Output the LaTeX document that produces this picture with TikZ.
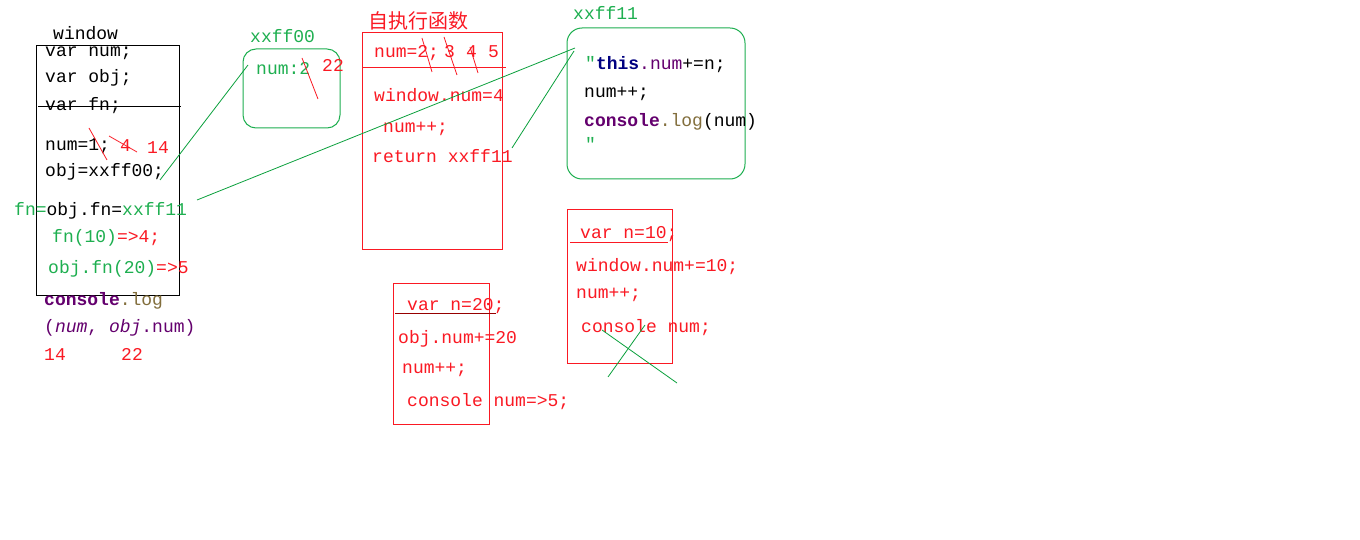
\documentclass[tikz,border=0pt]{standalone}
\usepackage{fontspec}
\setmainfont{Liberation Mono}
\newfontfamily\cjk{Noto Sans CJK SC}
\definecolor{cred}{RGB}{250,25,35}
\definecolor{dred}{RGB}{150,0,0}
\definecolor{cgreen}{RGB}{30,175,80}
\definecolor{lgreen}{RGB}{10,160,60}
\definecolor{cpurple}{RGB}{100,0,110}
\definecolor{colive}{RGB}{130,110,60}
\definecolor{cnavy}{RGB}{0,0,128}
\begin{document}
\begin{tikzpicture}[x=1pt,y=-1pt,
  t/.style={anchor=base west,inner sep=0pt,font=\fontsize{18}{20}\selectfont},
  rt/.style={t,text=cred},
  gt/.style={t,text=cgreen},
  gline/.style={draw=lgreen,line width=0.8pt},
  rline/.style={draw=cred,line width=0.8pt},
  blk/.style={draw=black,line width=1pt},
  rbox/.style={draw=cred,line width=1pt},
  gbox/.style={draw=cgreen,line width=1pt,rounded corners=13pt}]
\useasboundingbox[fill=white] (0,0) rectangle (1360,540);

% ---- window box
\draw[blk] (36,46) rectangle (179,295);
\draw[blk] (38,106.5) -- (181,106.5);
\node[t] (lwin) at (53,40) {window};
\node[t] (l1) at (45,57) {var num;};
\node[t] (l2) at (45,83) {var obj;};
\node[t] (l3) at (45,111) {var fn;};
\node[t] (l4) at (45,151) {num=1;};
\node[rt] (l4a) at (120,152) {4};
\node[rt] (l4b) at (147,154) {14};
\draw[rline] (89,128) -- (107,160);
\draw[rline] (109,136) -- (137,152);
\node[t] (l5) at (45,177) {obj=xxff00;};
\node[t] (l6) at (14,215) {\textcolor{cgreen}{fn=}obj.fn=\textcolor{cgreen}{xxff11}};
\node[gt] (l7) at (52,243) {fn(10)\textcolor{cred}{=>4;}};
\node[gt] (l8) at (48,273) {obj.fn(20)\textcolor{cred}{=>5}};
\node[t] (l9) at (44,305) {\textcolor{cpurple}{\bfseries console}\textcolor{colive}{.log}};
\node[t,text=cpurple] (l10) at (44,332) {(\textit{num}, \textit{obj}.num)};
\node[rt] (l11) at (44,360) {14};
\node[rt] (l12) at (121,360) {22};

% ---- xxff00
\node[gt] (h0) at (250,43) {xxff00};
\draw[gbox] (243,49) rectangle (340,128);
\node[gt] (h0a) at (256,75) {num:2};
\node[rt] (h0b) at (322,72) {22};
\draw[rline] (302,58) -- (318,99);

% ---- self-executing function
\node[anchor=base west,inner sep=0pt,font=\cjk\fontsize{20}{22}\selectfont,text=cred] (sf) at (368,29) {自执行函数};
\draw[rbox] (362,33) rectangle (502,249);
\draw[rline,line width=1pt] (362,68) -- (506,68);
\node[rt] (s1) at (374,58) {num=2;};
\node[rt] (s2) at (444,58) {3};
\node[rt] (s3) at (466,58) {4};
\node[rt] (s4) at (488,58) {5};
\draw[rline] (422,38) -- (432,72);
\draw[rline] (444,37) -- (457,75);
\draw[rline] (470,47) -- (478,73);
\node[rt] (s5) at (374,102) {window.num=4};
\node[rt] (s6) at (383,133) {num++;};
\node[rt] (s7) at (372,163) {return xxff11};

% ---- xxff11
\node[gt] (h1) at (573,20) {xxff11};
\draw[gbox,rounded corners=15pt] (567,28) rectangle (745,179);
\node[t] (f1) at (585,70) {\textcolor{cgreen}{″}\textcolor{cnavy}{\bfseries this}\textcolor{cpurple}{.num}+=n;};
\node[t] (f2) at (584,98) {num++;};
\node[t] (f3) at (584,127) {\textcolor{cpurple}{\bfseries console}\textcolor{colive}{.log}(num)};
\node[gt] (f4) at (585,151) {″};

% ---- var n=10 box
\draw[rbox] (567,210) rectangle (672,363);
\node[rt] (a1) at (580,239) {var n=10;};
\draw[rline,line width=1pt] (570,243) -- (668,243);
\node[rt] (a2) at (576,271) {window.num+=10;};
\node[rt] (a3) at (576,298) {num++;};
\node[rt] (a4) at (581,332) {console num;};
\coordinate (x1) at (602,330);
\coordinate (x2) at (677,383);
\coordinate (x3) at (645,325);
\coordinate (x4) at (608,377);
\draw[gline] (x1) -- (x2);
\draw[gline] (x3) -- (x4);

% ---- var n=20 box
\draw[rbox] (393,283) rectangle (489,424);
\node[rt] (b1) at (407,310) {var n=20;};
\draw[draw=dred,line width=1pt] (395,313) -- (496,313);
\node[rt] (b2) at (398,343) {obj.num+=20};
\node[rt] (b3) at (402,373) {num++;};
\node[rt] (b4) at (407,406) {console num=>5;};

% ---- connectors
\coordinate (c1) at (160,180);
\coordinate (c2) at (248,65);
\coordinate (c3) at (197,200);
\coordinate (c4) at (575,48);
\coordinate (c5) at (512,148);
\coordinate (c6) at (574,51);
\draw[gline] (c1) -- (c2);
\draw[gline] (c3) -- (c4);
\draw[gline] (c5) -- (c6);
\end{tikzpicture}
\end{document}
